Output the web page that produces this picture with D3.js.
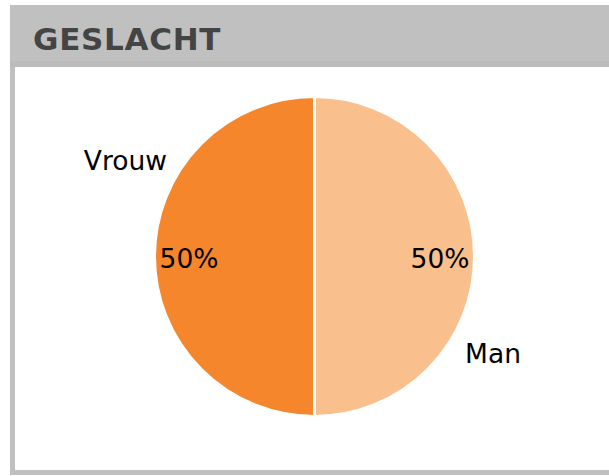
<!DOCTYPE html>
<html><head><meta charset="utf-8">
<script src="https://cdn.jsdelivr.net/npm/d3@7"></script>
<style>html,body{margin:0;padding:0;background:#fff;overflow:hidden}</style>
</head><body>
<svg id="c" width="609" height="476"></svg>
<script>
const title = "GESLACHT";
const categories = ["Man", "Vrouw"];
const values = [50, 50];
const colors = ["#F9C08E", "#F5862B"];

const svg = d3.select("#c");
// panel frame
svg.append("rect").attr("x", 10).attr("y", 5).attr("width", 620).attr("height", 470).attr("fill", "#c0c0c0");
svg.append("rect").attr("x", 15).attr("y", 67).attr("width", 620).attr("height", 403).attr("fill", "#fff");
svg.append("rect").attr("x", 10).attr("y", 61).attr("width", 620).attr("height", 6).attr("fill", "#bcbcbc");
svg.append("text").attr("x", 33).attr("y", 49.5).attr("fill", "#444")
  .attr("font-family", "DejaVu Sans").attr("font-weight", "bold").attr("font-size", 31)
  .attr("letter-spacing", 0.7).text(title);

const cx = 314.5, cy = 256.5, r = 160;
const g = svg.append("g").attr("transform", `translate(${cx},${cy})`);
const data = categories.map((c, i) => ({ cat: c, value: values[i], color: colors[i] }));
const pie = d3.pie().sort(null).value(d => d.value);
const arcs = pie(data);
const arc = d3.arc().innerRadius(0).outerRadius(r);
g.selectAll("path").data(arcs).join("path")
  .attr("d", arc).attr("fill", d => d.data.color)
  .attr("stroke", "#fff").attr("stroke-width", 3);

const total = d3.sum(values);
// percentage labels, horizontal at inner radius
const pctArc = d3.arc().innerRadius(125.5).outerRadius(125.5);
g.selectAll("text.pct").data(arcs).join("text").attr("class", "pct")
  .attr("x", d => pctArc.centroid(d)[0])
  .attr("y", d => pctArc.centroid(d)[1] + 11)
  .attr("text-anchor", "middle")
  .attr("font-family", "DejaVu Sans").attr("font-size", 26.5).attr("fill", "#000")
  .text(d => Math.round(d.value / total * 100) + "%");

// category labels outside
g.selectAll("text.cat").data(arcs).join("text").attr("class", "cat")
  .each(function(d) {
    const a = d.startAngle + 0.655 * (d.endAngle - d.startAngle);
    const isV = d.data.cat === "Vrouw";
    const rr = isV ? 214 : 202;
    d3.select(this).attr("x", rr * Math.sin(a)).attr("y", -rr * Math.cos(a) + (isV ? 14 : 11.5));
  })
  .attr("text-anchor", "middle")
  .attr("font-family", "DejaVu Sans").attr("font-size", 26.5).attr("fill", "#000")
  .text(d => d.data.cat);
</script>
</body></html>
